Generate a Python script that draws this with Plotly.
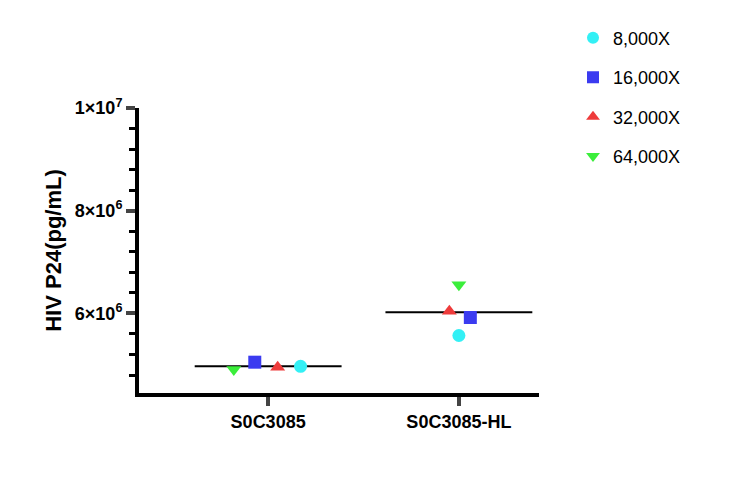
import plotly.graph_objects as go

categories = ["S0C3085", "S0C3085-HL"]
series = ["8,000X", "16,000X", "32,000X", "64,000X"]
values = {
    "8,000X": [4.97e6, 5.57e6],
    "16,000X": [5.05e6, 5.92e6],
    "32,000X": [4.95e6, 6.04e6],
    "64,000X": [4.91e6, 6.56e6],
}
offsets = {"8,000X": [0.17, 0.0], "16,000X": [-0.07, 0.06], "32,000X": [0.05, -0.05], "64,000X": [-0.18, 0.0]}
colors = {"8,000X": "#33f0f5", "16,000X": "#3b3bf0", "32,000X": "#ee3b3b", "64,000X": "#3bee3b"}
symbols = {"8,000X": "circle", "16,000X": "square", "32,000X": "triangle-up", "64,000X": "triangle-down"}
ytickvals = [6e6, 8e6, 1e7]
yticktext = ["6×10<sup>6</sup>", "8×10<sup>6</sup>", "1×10<sup>7</sup>"]

fig = go.Figure()
for i, c in enumerate(categories):
    m = sum(values[s][i] for s in series) / len(series)
    fig.add_trace(go.Scatter(x=[i - 0.385, i + 0.385], y=[m, m], mode="lines",
                             line=dict(color="black", width=2), showlegend=False, hoverinfo="skip"))
for s in series:
    fig.add_trace(go.Scatter(
        x=[i + offsets[s][i] for i in range(len(categories))], y=values[s], mode="markers", name=s,
        legendgroup=s, marker=dict(color=colors[s], symbol=symbols[s], size=13)))

fig.update_layout(
    width=732, height=492, plot_bgcolor="white", paper_bgcolor="white",
    margin=dict(l=131, r=201, t=93, b=107),
    font=dict(family="Liberation Sans, Arial", color="black"),
    legend=dict(x=1.085, y=1.31, xanchor="left", yanchor="top", font=dict(size=18), itemsizing="constant",
                tracegroupgap=13, itemwidth=30),
)
fig.update_xaxes(range=[-0.677, 1.42], tickvals=[0, 1], ticktext=[f"<b>{c}</b>" for c in categories],
                 showline=True, linewidth=4, linecolor="black", ticks="outside", ticklen=9, tickwidth=4,
                 showgrid=False, zeroline=False, tickfont=dict(size=18))
fig.update_yaxes(range=[4.45e6, 1e7], tickvals=ytickvals, ticktext=[f"<b>{t}</b>" for t in yticktext],
                 showline=True, linewidth=4, linecolor="black", ticks="outside", ticklen=9, tickwidth=4,
                 minor=dict(dtick=4e5, tick0=0, ticks="outside", ticklen=6, tickwidth=3, tickcolor="black"),
                 showgrid=False, zeroline=False, tickfont=dict(size=18),
                 title=dict(text="<b>HIV P24(pg/mL)</b>", font=dict(size=22), standoff=8))
fig.write_html("out.html")
